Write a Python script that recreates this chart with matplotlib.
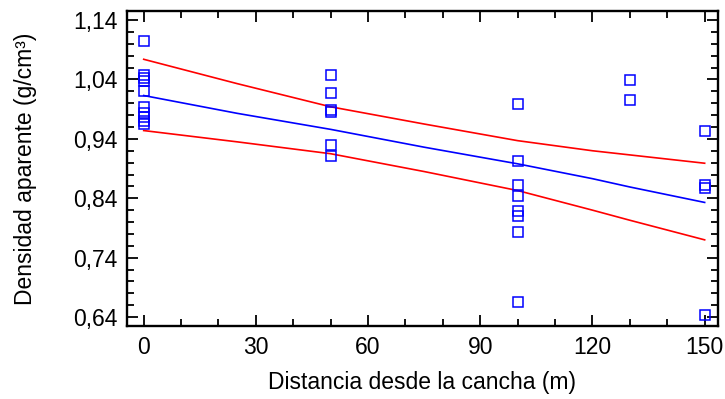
import matplotlib.pyplot as plt
from matplotlib.ticker import MultipleLocator

plt.rcParams['font.family'] = ['Liberation Sans', 'DejaVu Sans']

# observed points (distance, density)
dist = [0, 0, 0, 0, 0, 0, 0, 0, 0, 0,
        50, 50, 50, 50, 50, 50,
        100, 100, 100, 100, 100, 100, 100, 100,
        130, 130,
        150, 150, 150, 150]
dens = [1.105, 1.048, 1.043, 1.038, 1.021, 0.993, 0.983, 0.977, 0.970, 0.965,
        1.048, 1.018, 0.988, 0.986, 0.929, 0.911,
        0.998, 0.902, 0.863, 0.844, 0.818, 0.810, 0.783, 0.666,
        1.039, 1.005,
        0.954, 0.863, 0.857, 0.643]

# fitted line and limits
line_x = [0, 25, 50, 75, 100, 120, 130, 150]
fit = [1.013, 0.983, 0.956, 0.926, 0.898, 0.873, 0.859, 0.833]
upper = [1.074, 1.033, 0.994, 0.965, 0.937, 0.920, 0.913, 0.899]
lower = [0.954, 0.935, 0.915, 0.885, 0.853, 0.820, 0.803, 0.770]

xticks = [0, 30, 60, 90, 120, 150]
yticks = [0.64, 0.74, 0.84, 0.94, 1.04, 1.14]
ylabels = ['0,64', '0,74', '0,84', '0,94', '1,04', '1,14']

fig = plt.figure(figsize=(7.25, 3.99), dpi=100)
ax = fig.add_axes([0.175, 0.183, 0.815, 0.789])

ax.plot(line_x, upper, color='#ff0000', lw=1.2)
ax.plot(line_x, lower, color='#ff0000', lw=1.2)
ax.plot(line_x, fit, color='#0000ff', lw=1.2)
ax.plot(dist, dens, 's', ms=7, mfc='none', mec='#0000ff', mew=1.1)

ax.set_xlim(-4.5, 153.5)
ax.set_ylim(0.625, 1.155)
ax.set_xticks(xticks)
ax.set_yticks(yticks)
ax.set_yticklabels(ylabels)
ax.xaxis.set_minor_locator(MultipleLocator(10))
ax.yaxis.set_minor_locator(MultipleLocator(0.02))
ax.tick_params(which='both', direction='in', top=True, right=True,
               width=1.3, labelsize=16.5, pad=7)
ax.tick_params(which='major', length=8)
ax.tick_params(which='minor', length=5)
for s in ax.spines.values():
    s.set_linewidth(1.7)

ax.set_xlabel('Distancia desde la cancha (m)', fontsize=16.5, labelpad=9)
ax.set_ylabel('Densidad aparente (g/cm³)', fontsize=16.5, labelpad=26)

fig.savefig('out.png')
